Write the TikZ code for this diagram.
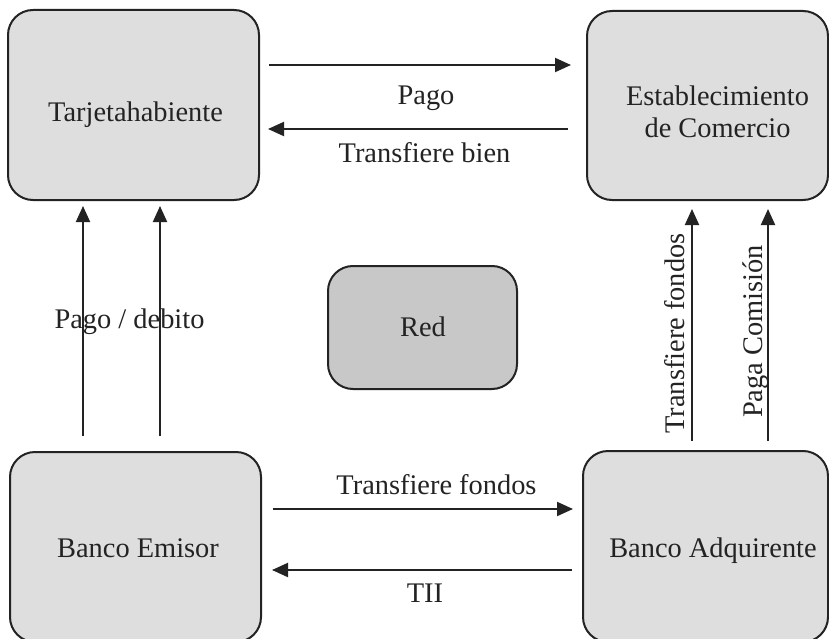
\documentclass[tikz,border=0pt]{standalone}
\usepackage{fontspec}
\setmainfont{Liberation Serif}
\usetikzlibrary{arrows.meta,calc}

\definecolor{inkgray}{HTML}{232323}
\definecolor{boxgray}{HTML}{DEDEDE}
\definecolor{netgray}{HTML}{C8C8C8}

\tikzset{
  actor/.style={draw=inkgray, line width=2pt, fill=boxgray, rounded corners=25pt,
                rectangle, inner sep=0pt},
  netbox/.style={actor, fill=netgray},
  lbl/.style={text=inkgray, anchor=base, inner sep=0pt,
              font=\fontsize{28.4}{34}\selectfont},
  flow/.style={draw=inkgray, line width=2pt,
               -{Triangle[length=16pt,width=14pt]}, color=inkgray},
}

\begin{document}
\begin{tikzpicture}[x=1pt, y=-1pt]
  \path[use as bounding box, fill=white] (0,0) rectangle (829,639);

  % participants
  \node[actor, minimum width=251pt, minimum height=190pt] (th) at (133.5,105) {};
  \node[actor, minimum width=241pt, minimum height=189pt] (ec) at (707.5,105.5) {};
  \node[netbox, minimum width=189pt, minimum height=123pt] (red) at (422.5,327.5) {};
  \node[actor, minimum width=251pt, minimum height=190pt] (be) at (135.5,547) {};
  \node[actor, minimum width=245pt, minimum height=191pt] (ba) at (705.5,546.5) {};

  % names inside the boxes
  \node[lbl] (thT) at (135.5,122) {Tarjetahabiente};
  \node[lbl] (ecT1) at (717.5,106) {Establecimiento};
  \node[lbl] (ecT2) at (717.5,138) {de Comercio};
  \node[lbl] (redT) at (423,336) {Red};
  \node[lbl] (beT) at (138,557) {Banco Emisor};
  \node[lbl] (baT) at (713,557) {Banco Adquirente};

  % cardholder <-> merchant
  \draw[flow] ($(th.north east)+(9,56)$) -- ($(ec.north west)+(-15,55)$);
  \draw[flow] ($(ec.north west)+(-18,119)$) -- ($(th.north east)+(8,120)$);
  \node[lbl] (pago) at (426,105) {Pago};
  \node[lbl] (bien) at (424.5,163) {Transfiere bien};

  % issuing bank -> cardholder
  \draw[flow] ($(be.north west)+(74,-15)$) -- ($(th.south west)+(76,5)$);
  \draw[flow] ($(be.north west)+(151,-15)$) -- ($(th.south west)+(153,5)$);
  \node[lbl] (debito) at (129.5,328) {Pago / debito};

  % acquiring bank -> merchant
  \draw[flow] ($(ba.north west)+(110,-9)$) -- ($(ec.south west)+(106,8)$);
  \draw[flow] ($(ba.north west)+(186,-9)$) -- ($(ec.south west)+(182,8)$);
  \node[lbl, rotate=90] (fondosV) at (684,333.5) {Transfiere fondos};
  \node[lbl, rotate=90] (comision) at (762,331.5) {Paga Comisión};

  % issuing bank <-> acquiring bank
  \draw[flow] ($(be.north east)+(11,58)$) -- ($(ba.north west)+(-9,59)$);
  \draw[flow] ($(ba.north west)+(-10,120)$) -- ($(be.north east)+(10,119)$);
  \node[lbl] (fondosH) at (436.5,494) {Transfiere fondos};
  \node[lbl] (tii) at (425,602) {TII};
\end{tikzpicture}
\end{document}
